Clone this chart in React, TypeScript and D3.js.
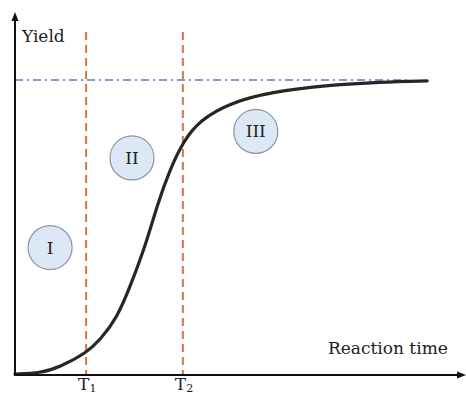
import React, { useRef, useEffect } from 'react';
import * as d3 from 'd3';

// yield curve (time and yield in arbitrary units, plateau = 100)
const curveTime = [0, 5.6, 10, 15.8, 18.9, 22.7, 26, 29.3, 31.6, 34.4, 37.3, 41.1, 47.8, 56.7, 70, 81.1, 91.6];
const curveYield = [0, 0.3, 2.4, 7.1, 11.6, 19.0, 31.3, 45.2, 57.5, 69.4, 78.9, 86.4, 92.2, 95.9, 98.3, 99.3, 99.7];

const markerTimes = [15.8, 37.3];
const markerLabels = ['1', '2'];
const plateauYield = 100;
const plateauEnd = 87.8;

const regionLabels = ['I', 'II', 'III'];
const regionTime = [7.8, 26, 53.5];
const regionYield = [43, 73.5, 82.5];

const W = 466;
const H = 394;

export default function App() {
    const ref = useRef<SVGSVGElement>(null);

    useEffect(() => {
        const svg = d3.select(ref.current);
        svg.selectAll('*').remove();

        const x = d3.scaleLinear().domain([0, 100]).range([15, 465]);
        const y = d3.scaleLinear().domain([0, 100]).range([374, 80]);
        const font = '"DejaVu Serif", serif';

        // plateau line
        svg.append('line')
            .attr('x1', x(0)).attr('x2', x(plateauEnd))
            .attr('y1', y(plateauYield)).attr('y2', y(plateauYield))
            .attr('stroke', '#5a78c2').attr('stroke-width', 1.3)
            .attr('stroke-dasharray', '8,4,2,4');

        // T1 / T2 markers
        markerTimes.forEach((t, i) => {
            svg.append('line')
                .attr('x1', x(t)).attr('x2', x(t))
                .attr('y1', 32).attr('y2', 374)
                .attr('stroke', '#d8763e').attr('stroke-width', 2)
                .attr('stroke-dasharray', '8,5');
            const lab = svg.append('text')
                .attr('x', x(t) - 8).attr('y', 390)
                .attr('font-family', font).attr('font-size', 17)
                .attr('fill', '#222');
            lab.append('tspan').text('T');
            lab.append('tspan').attr('font-size', 11).attr('dy', 2).text(markerLabels[i]);
        });

        // region circles
        regionLabels.forEach((r, i) => {
            const cx = x(regionTime[i]);
            const cy = y(regionYield[i]);
            svg.append('circle')
                .attr('cx', cx).attr('cy', cy).attr('r', 22)
                .attr('fill', '#dce8f5').attr('stroke', '#8894aa').attr('stroke-width', 1.2);
            svg.append('text')
                .attr('x', cx).attr('y', cy + 6)
                .attr('text-anchor', 'middle')
                .attr('font-family', font).attr('font-size', 17)
                .attr('fill', '#222')
                .text(r);
        });

        // curve
        const pts: [number, number][] = curveTime.map((t, i) => [t, curveYield[i]]);
        const line = d3.line<[number, number]>()
            .x(d => x(d[0]))
            .y(d => y(d[1]))
            .curve(d3.curveBasis);
        svg.append('path')
            .datum(pts)
            .attr('d', line)
            .attr('fill', 'none')
            .attr('stroke', '#262626')
            .attr('stroke-width', 3.2)
            .attr('stroke-linecap', 'round');

        // axes with arrows
        svg.append('line')
            .attr('x1', 15).attr('x2', 15).attr('y1', 375).attr('y2', 20)
            .attr('stroke', '#111').attr('stroke-width', 2);
        svg.append('path')
            .attr('d', 'M15,12 L11.5,21 L18.5,21 Z').attr('fill', '#111');
        svg.append('line')
            .attr('x1', 14).attr('x2', 458).attr('y1', 375).attr('y2', 375)
            .attr('stroke', '#111').attr('stroke-width', 2);
        svg.append('path')
            .attr('d', 'M466,375 L457,371.5 L457,378.5 Z').attr('fill', '#111');

        svg.append('text')
            .attr('x', 22).attr('y', 42)
            .attr('font-family', font).attr('font-size', 17)
            .attr('fill', '#222')
            .text('Yield');
        svg.append('text')
            .attr('x', 328).attr('y', 354)
            .attr('font-family', font).attr('font-size', 17)
            .attr('fill', '#222')
            .text('Reaction time');
    }, []);

    return (
        <svg ref={ref} width={W} height={H}
            style={{ position: 'absolute', left: 0, top: 0, background: '#fff' }} />
    );
}
